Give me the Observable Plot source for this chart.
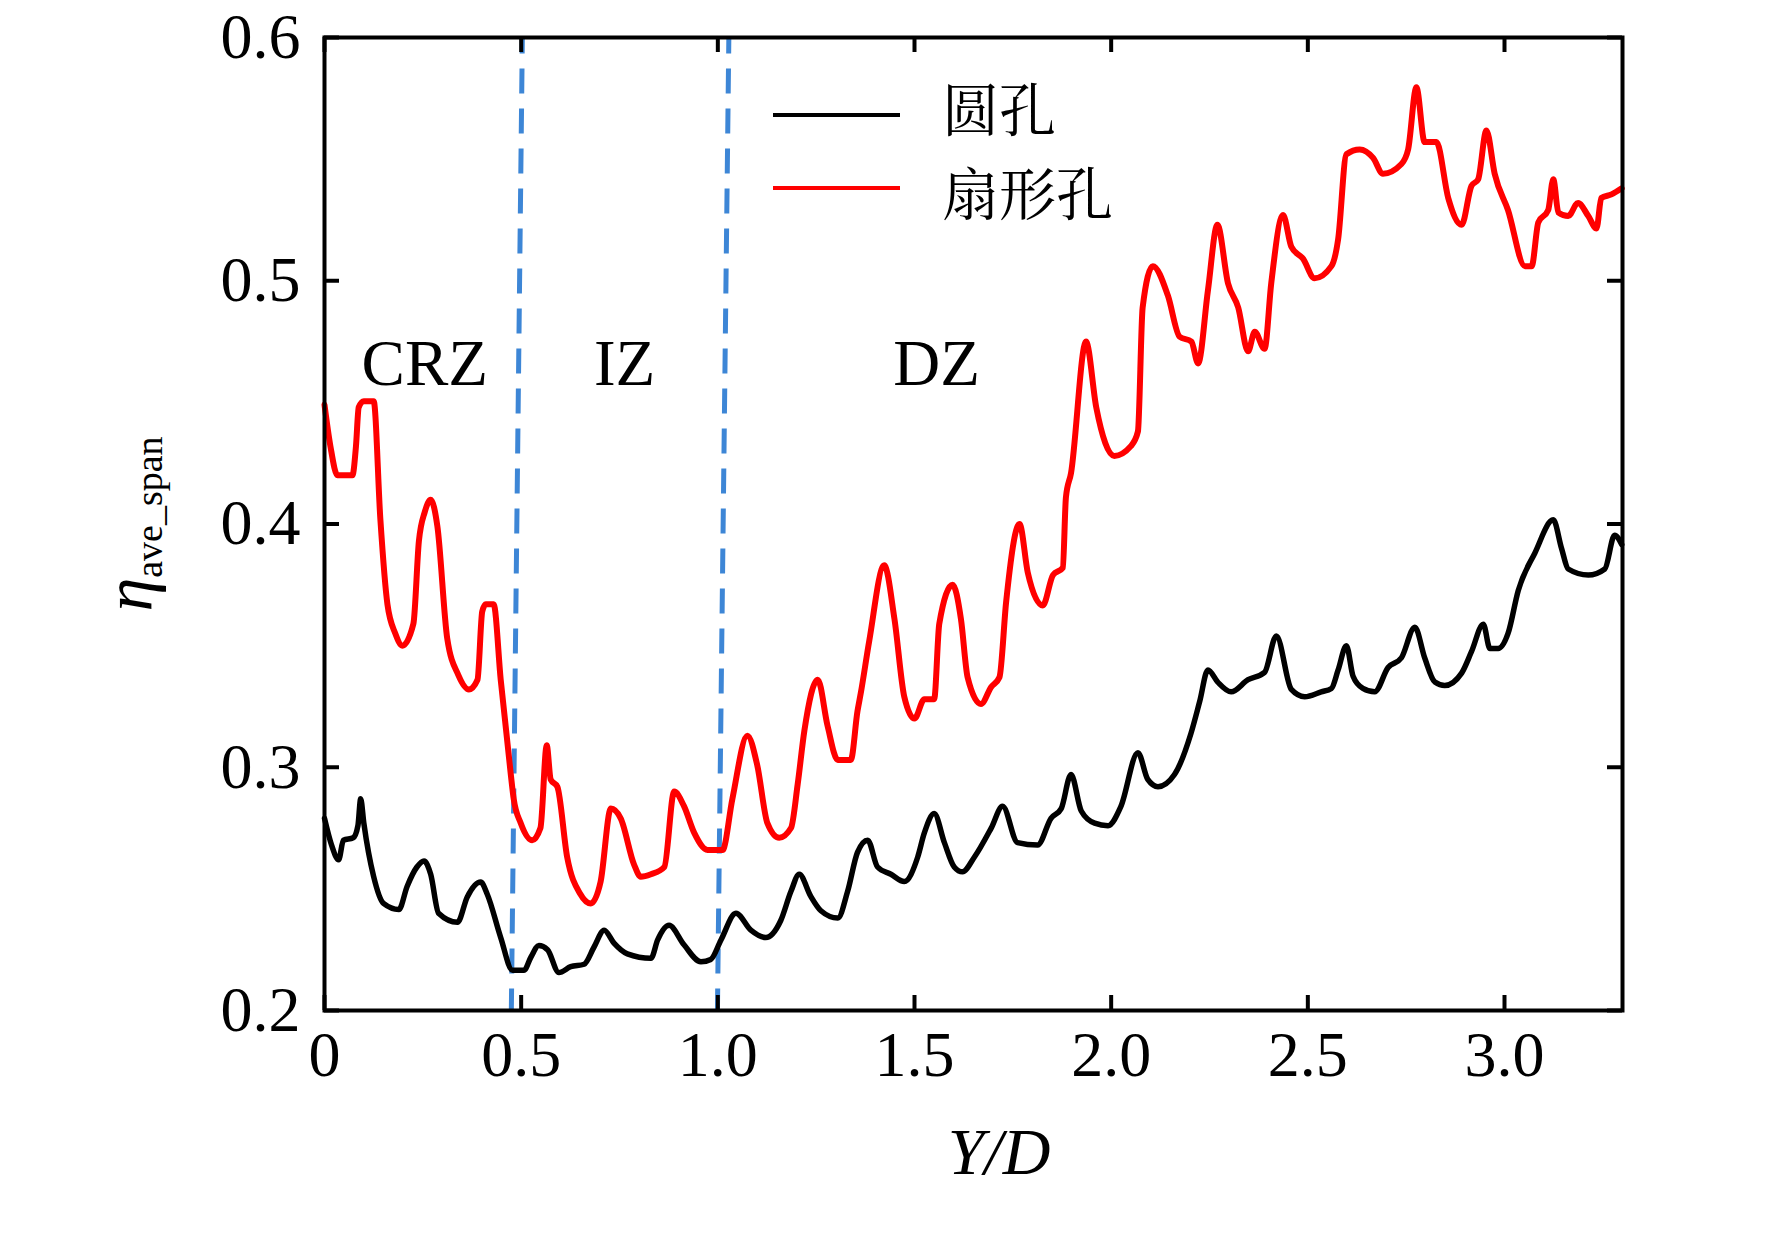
<!DOCTYPE html>
<html>
<head>
<meta charset="utf-8">
<script src="https://cdn.jsdelivr.net/npm/d3@7"></script>
<script src="https://cdn.jsdelivr.net/npm/@observablehq/plot@0.6"></script>
<style>
  html, body { margin: 0; padding: 0; background: #fff; }
</style>
</head>
<body>
<div id="chart"></div>
<script>
// ---- data ----
const roundX = [0.000,0.018,0.036,0.048,0.073,0.085,0.092,0.100,0.125,0.150,0.189,0.210,0.235,0.253,0.270,0.290,0.338,0.363,0.397,0.414,0.448,0.478,0.507,0.525,0.545,0.567,0.596,0.626,0.660,0.685,0.711,0.736,0.770,0.830,0.847,0.876,0.914,0.957,0.982,1.008,1.046,1.084,1.122,1.160,1.186,1.207,1.236,1.262,1.305,1.330,1.355,1.381,1.406,1.440,1.474,1.508,1.525,1.550,1.576,1.601,1.622,1.652,1.695,1.724,1.762,1.813,1.847,1.873,1.898,1.924,1.958,1.992,2.025,2.068,2.093,2.119,2.161,2.203,2.225,2.246,2.271,2.305,2.348,2.390,2.420,2.458,2.492,2.534,2.560,2.577,2.598,2.615,2.640,2.670,2.704,2.738,2.772,2.797,2.823,2.848,2.891,2.916,2.946,2.963,2.984,3.009,3.035,3.077,3.124,3.145,3.162,3.213,3.255,3.280,3.298];
const roundY = [0.279,0.268,0.262,0.270,0.271,0.276,0.287,0.277,0.255,0.244,0.2415,0.251,0.259,0.2615,0.256,0.240,0.2363,0.2467,0.2528,0.2477,0.230,0.2165,0.2165,0.222,0.2267,0.225,0.2156,0.218,0.219,0.226,0.233,0.2277,0.2233,0.2215,0.229,0.235,0.227,0.220,0.221,0.229,0.240,0.233,0.230,0.237,0.249,0.256,0.247,0.241,0.238,0.249,0.265,0.270,0.259,0.256,0.253,0.263,0.273,0.281,0.269,0.259,0.257,0.263,0.275,0.284,0.269,0.268,0.279,0.283,0.297,0.282,0.277,0.276,0.284,0.306,0.295,0.292,0.297,0.314,0.327,0.340,0.335,0.331,0.336,0.339,0.354,0.332,0.329,0.331,0.3324,0.340,0.350,0.3374,0.3324,0.331,0.341,0.345,0.3576,0.345,0.335,0.3336,0.3387,0.3475,0.3588,0.3488,0.3488,0.355,0.3727,0.388,0.4017,0.390,0.3815,0.379,0.3815,0.3954,0.3916];

const fanX = [0.000,0.015,0.033,0.071,0.080,0.087,0.100,0.125,0.142,0.160,0.180,0.198,0.226,0.240,0.255,0.270,0.287,0.312,0.340,0.367,0.389,0.401,0.410,0.430,0.448,0.473,0.481,0.499,0.528,0.549,0.565,0.575,0.592,0.617,0.650,0.677,0.702,0.728,0.753,0.787,0.804,0.830,0.864,0.889,0.914,0.940,0.974,1.012,1.037,1.075,1.100,1.126,1.156,1.186,1.203,1.220,1.254,1.279,1.305,1.338,1.355,1.364,1.385,1.423,1.449,1.474,1.500,1.525,1.550,1.563,1.597,1.618,1.635,1.669,1.695,1.716,1.733,1.767,1.788,1.826,1.852,1.877,1.885,1.898,1.936,1.962,2.008,2.050,2.068,2.080,2.106,2.144,2.174,2.204,2.221,2.246,2.270,2.297,2.323,2.348,2.365,2.390,2.407,2.437,2.458,2.488,2.517,2.560,2.577,2.598,2.632,2.666,2.691,2.738,2.755,2.776,2.797,2.827,2.857,2.891,2.916,2.933,2.954,2.975,3.009,3.052,3.069,3.086,3.111,3.124,3.137,3.162,3.187,3.213,3.234,3.246,3.272,3.298];
const fanY = [0.449,0.432,0.420,0.420,0.432,0.448,0.4505,0.4505,0.402,0.367,0.355,0.350,0.359,0.393,0.405,0.410,0.399,0.353,0.338,0.332,0.336,0.364,0.367,0.367,0.336,0.298,0.287,0.277,0.270,0.275,0.309,0.295,0.292,0.263,0.248,0.244,0.253,0.283,0.279,0.260,0.255,0.256,0.259,0.290,0.284,0.273,0.266,0.266,0.287,0.313,0.301,0.277,0.271,0.275,0.293,0.315,0.336,0.317,0.303,0.303,0.323,0.331,0.352,0.383,0.361,0.329,0.320,0.328,0.328,0.359,0.375,0.361,0.337,0.326,0.333,0.337,0.368,0.400,0.380,0.3665,0.379,0.382,0.411,0.421,0.475,0.448,0.428,0.432,0.438,0.489,0.506,0.494,0.477,0.475,0.466,0.496,0.523,0.499,0.489,0.471,0.479,0.472,0.499,0.527,0.514,0.509,0.501,0.506,0.517,0.552,0.554,0.5505,0.544,0.548,0.554,0.5795,0.557,0.557,0.534,0.523,0.539,0.5417,0.5618,0.544,0.529,0.506,0.506,0.524,0.529,0.5417,0.528,0.5266,0.532,0.5266,0.5215,0.534,0.5355,0.538];

const seriesNames = ["圆孔", "扇形孔"];
const seriesColors = ["#000000", "#ff0000"];

const xTicks = [0, 0.5, 1.0, 1.5, 2.0, 2.5, 3.0];
const yTicks = [0.2, 0.3, 0.4, 0.5, 0.6];

// zone boundaries (dashed lines), x at top and bottom of the frame
const boundaryTopX = [0.503, 1.028];
const boundaryBottomX = [0.475, 0.999];

const regionNames = ["CRZ", "IZ", "DZ"];
const regionX = [0.255, 0.763, 1.556];
const regionY = 0.4656;

// ---- build tables ----
const roundData = roundX.map((x, i) => ({x, y: roundY[i], s: seriesNames[0]}));
const fanData = fanX.map((x, i) => ({x, y: fanY[i], s: seriesNames[1]}));

const W = 1772, H = 1233;
const mL = 324, mR = 150, mT = 37, mB = 223;
const innerW = W - mL - mR, innerH = H - mT - mB;
const tickLen = 15;
const serif = "'Liberation Serif', 'Times New Roman', serif";

const plot = Plot.plot({
  width: W,
  height: H,
  marginLeft: mL,
  marginRight: mR,
  marginTop: mT,
  marginBottom: mB,
  style: {fontFamily: serif, fontSize: "64px", background: "#fff", color: "#000", overflow: "visible"},
  x: {domain: [0, 3.3]},
  y: {domain: [0.2, 0.6]},
  marks: [
    // zone boundaries
    Plot.link([0, 1], {
      x1: i => boundaryTopX[i], y1: () => 0.6,
      x2: i => boundaryBottomX[i], y2: () => 0.2,
      stroke: "#3d86d6", strokeWidth: 5, strokeDasharray: "25,15", strokeDashoffset: 9
    }),
    // curves
    Plot.line(roundData, {x: "x", y: "y", stroke: seriesColors[0], strokeWidth: 5.5, curve: "monotone-x"}),
    Plot.line(fanData, {x: "x", y: "y", stroke: seriesColors[1], strokeWidth: 6, curve: "monotone-x"}),
    // region labels
    Plot.text(regionNames, {x: (d, i) => regionX[i], y: () => regionY, text: d => d, fontSize: 65, fontFamily: serif, fill: "#000"}),
    // inward ticks on all four sides
    Plot.tickX(xTicks, {x: d => d, insetTop: innerH - tickLen, stroke: "#000", strokeWidth: 4}),
    Plot.tickX(xTicks, {x: d => d, insetBottom: innerH - tickLen, stroke: "#000", strokeWidth: 4}),
    Plot.tickY(yTicks, {y: d => d, insetRight: innerW - tickLen, stroke: "#000", strokeWidth: 4}),
    Plot.tickY(yTicks, {y: d => d, insetLeft: innerW - tickLen, stroke: "#000", strokeWidth: 4}),
    // tick labels
    Plot.axisX(xTicks, {anchor: "bottom", tickSize: 0, tickPadding: 20, tickFormat: d => d === 0 ? "0" : d.toFixed(1), label: null, fontSize: 64}),
    Plot.axisY(yTicks, {anchor: "left", tickSize: 0, tickPadding: 24, tickFormat: d => d.toFixed(1), label: null, fontSize: 64}),
    Plot.frame({stroke: "#000", strokeWidth: 4})
  ]
});

document.getElementById("chart").appendChild(plot);

// ---- extra text: axis titles and legend ----
const svg = d3.select(plot);

// x-axis title
svg.append("text")
  .attr("x", 999).attr("y", 1174)
  .attr("text-anchor", "middle")
  .attr("font-family", serif)
  .attr("font-style", "italic")
  .attr("font-size", 66)
  .attr("fill", "#000")
  .text("Y/D");

// y-axis title with subscript
const yl = svg.append("text")
  .attr("transform", "translate(152,524) rotate(-90)")
  .attr("text-anchor", "middle")
  .attr("font-family", serif)
  .attr("fill", "#000");
yl.append("tspan").attr("font-size", 68).attr("font-style", "italic").text("η");
yl.append("tspan").attr("font-size", 38).attr("dy", 10).text("ave_span");

// legend
const legendLineY = [115, 188];
const legendTextY = [110, 194];
const lg = svg.append("g");
seriesNames.forEach((name, i) => {
  lg.append("line")
    .attr("x1", 773).attr("x2", 900)
    .attr("y1", legendLineY[i]).attr("y2", legendLineY[i])
    .attr("stroke", seriesColors[i]).attr("stroke-width", 4);
  lg.append("text")
    .attr("x", 942).attr("y", legendTextY[i])
    .attr("dy", "0.36em")
    .attr("text-anchor", "start")
    .attr("font-family", "'Noto Serif CJK SC', 'Noto Sans CJK SC', sans-serif")
    .attr("font-size", 57)
    .attr("fill", "#000")
    .text(name);
});
</script>
</body>
</html>
